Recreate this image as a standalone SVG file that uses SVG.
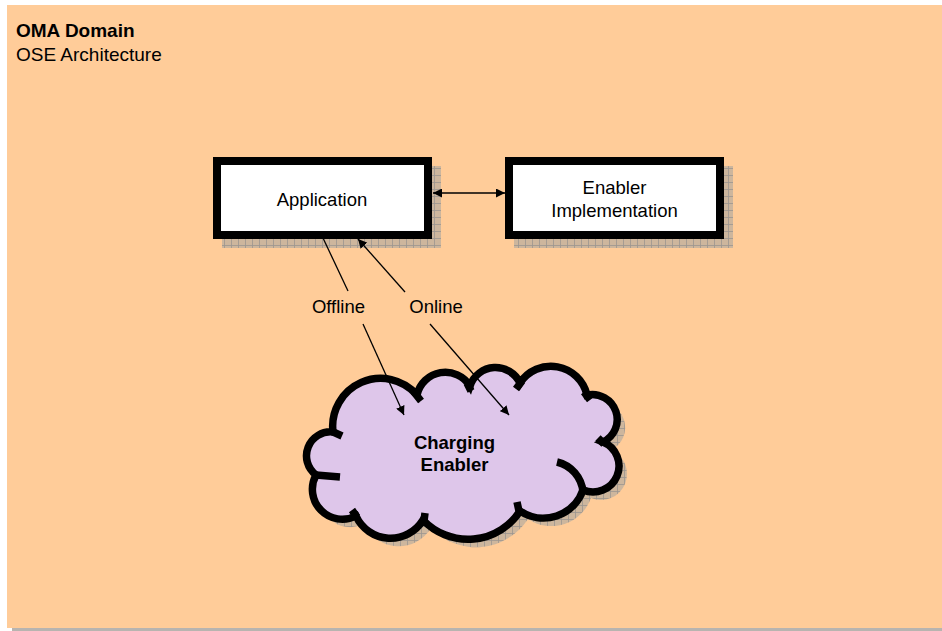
<svg xmlns="http://www.w3.org/2000/svg" width="942" height="631" viewBox="0 0 942 631">
<defs>
<pattern id="hatch" width="7" height="7" patternUnits="userSpaceOnUse">
<rect width="7" height="7" fill="#CDB69D"/>
<path d="M0 0.5H7M0.5 0V7" stroke="#9C968F" stroke-width="0.8"/>
</pattern>
<marker id="ah" viewBox="0 0 10 10" refX="10" refY="5" markerWidth="9" markerHeight="9" markerUnits="userSpaceOnUse" orient="auto-start-reverse">
<path d="M0 0L10 5L0 10Z" fill="#000"/>
</marker>
<style>
.t{font-family:"Liberation Sans",Arial,sans-serif;font-size:18.5px;fill:#000}
.h{font-size:19px}
.b{font-weight:bold}
.box{fill:#fff;stroke:#000;stroke-width:8}
.sh{fill:url(#hatch)}
.con{stroke:#000;stroke-width:1.3;fill:none}
.cloud{fill:#DEC6EA;stroke:#000;stroke-width:7.5;stroke-miterlimit:3}
.stub{fill:none;stroke:#000;stroke-width:7.5}
</style>
</defs>
<rect x="0" y="0" width="942" height="631" fill="#fff"/>
<rect x="12" y="628" width="930" height="3" fill="#B8B4B0"/>
<rect id="domain" x="7" y="5" width="935" height="623" fill="#FFCC99"/>
<g id="title">
<text class="t h b" x="16" y="37">OMA Domain</text>
<text class="t h" x="16" y="61">OSE Architecture</text>
</g>
<g id="application">
<rect class="sh" x="222" y="166" width="219" height="82"/>
<rect class="box" x="217" y="161" width="211" height="74"/>
<text class="t" x="322" y="206" text-anchor="middle">Application</text>
</g>
<g id="enabler-implementation">
<rect class="sh" x="514" y="166" width="219" height="82"/>
<rect class="box" x="509" y="161" width="211" height="74"/>
<text class="t" x="614.5" y="194" text-anchor="middle">Enabler</text>
<text class="t" x="614.5" y="217" text-anchor="middle">Implementation</text>
</g>
<g id="charging-enabler">
<path class="sh" transform="translate(8,8)" d="M333 432A48 48 0 0 1 417 395A29 29 0 0 1 470 386A27 27 0 0 1 520 383A37 37 0 0 1 587 395A25 25 0 0 1 603 442A26 26 0 0 1 583 490A42 42 0 0 1 520 511A62 62 0 0 1 423 520A38 38 0 0 1 356 516A30 30 0 0 1 316 475A24 24 0 0 1 333 432Z"/>
<path class="cloud" d="M333 432A48 48 0 0 1 417 395A29 29 0 0 1 470 386A27 27 0 0 1 520 383A37 37 0 0 1 587 395A25 25 0 0 1 603 442A26 26 0 0 1 583 490A42 42 0 0 1 520 511A62 62 0 0 1 423 520A38 38 0 0 1 356 516A30 30 0 0 1 316 475A24 24 0 0 1 333 432Z"/>
<path class="stub" d="M331 431L342 436M414 392L421 401M467 383L471 391M522 381L516 389M584 392L590 400M604 444L598 438M557 462A34 34 0 0 1 583 492M519 511L517 502M424 521L425 513M357 517L352 510M316 475L340 477"/>
<text class="t b" x="454.5" y="449" text-anchor="middle">Charging</text>
<text class="t b" x="454.5" y="471" text-anchor="middle">Enabler</text>
</g>
<g id="connectors">
<line class="con" x1="433" y1="193" x2="505" y2="193" marker-start="url(#ah)" marker-end="url(#ah)"/>
<line class="con" x1="323" y1="238" x2="348" y2="291"/>
<line class="con" x1="363" y1="324" x2="404" y2="415" marker-end="url(#ah)"/>
<line class="con" x1="405" y1="292" x2="358" y2="239" marker-end="url(#ah)"/>
<line class="con" x1="430" y1="324" x2="509" y2="415" marker-end="url(#ah)"/>
<text class="t" x="338.5" y="313" text-anchor="middle">Offline</text>
<text class="t" x="436" y="313" text-anchor="middle">Online</text>
</g>
</svg>
